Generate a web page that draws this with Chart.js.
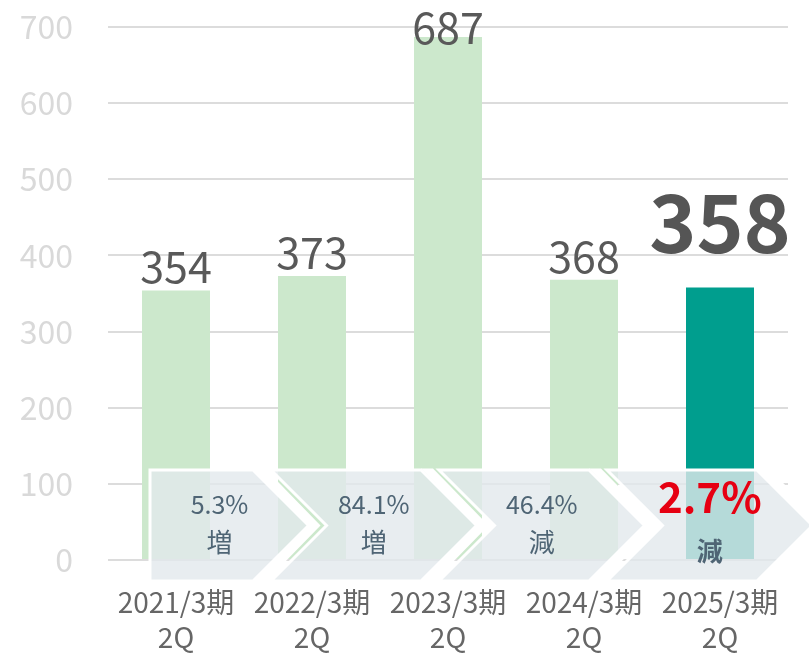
<!DOCTYPE html>
<html>
<head>
<meta charset="utf-8">
<script src="https://cdn.jsdelivr.net/npm/chart.js@4.4.1/dist/chart.umd.min.js"></script>
<style>
  html, body { margin: 0; padding: 0; background: #fff; }
  #wrap { width: 809px; height: 654px; }
</style>
</head>
<body>
<div id="wrap"><canvas id="chart" width="809" height="654"></canvas></div>
<script>
const periods = [
  ["2021/3期", "2Q"],
  ["2022/3期", "2Q"],
  ["2023/3期", "2Q"],
  ["2024/3期", "2Q"],
  ["2025/3期", "2Q"],
]
const values = [354, 373, 687, 368, 358]
const changeRates = ["5.3%", "84.1%", "46.4%", "2.7%"]
const changeDirs = ["増", "増", "減", "減"]
const yMax = 700
const yStep = 100

const FONT = "'Noto Sans CJK JP', 'Open Sans', sans-serif"
const barColors = values.map((v, i) => (i === values.length - 1 ? "#009e8e" : "#cce8cc"))

// chevron band across the bottom (decoration, follows the first bar and chart area)
const chevrons = {
  id: "chevrons",
  afterDatasetsDraw(chart) {
    const ctx = chart.ctx
    const area = chart.chartArea
    const bars = chart.getDatasetMeta(0).data
    const left0 = bars[0].x - bars[0].width / 2 + 8
    const top = area.bottom - 90
    const bot = area.bottom + 21
    const mid = (top + bot) / 2
    const depth = mid - top
    const w = 150
    const step = 168
    ctx.save()
    changeRates.forEach((rate, k) => {
      const tr = left0 + 103 + step * k
      const nl = tr - w
      // white band on the right edge
      ctx.fillStyle = "#ffffff"
      ctx.beginPath()
      ctx.moveTo(tr, top - 1.5)
      ctx.lineTo(tr + 12, top - 1.5)
      ctx.lineTo(tr + 12 + depth, mid)
      ctx.lineTo(tr + 12, bot + 1.5)
      ctx.lineTo(tr, bot + 1.5)
      ctx.lineTo(tr + depth, mid)
      ctx.closePath()
      ctx.fill()

      ctx.beginPath()
      if (k === 0) {
        ctx.moveTo(left0, top)
        ctx.lineTo(tr, top)
        ctx.lineTo(tr + depth, mid)
        ctx.lineTo(tr, bot)
        ctx.lineTo(left0, bot)
      } else {
        ctx.moveTo(nl, top)
        ctx.lineTo(tr, top)
        ctx.lineTo(tr + depth, mid)
        ctx.lineTo(tr, bot)
        ctx.lineTo(nl, bot)
        ctx.lineTo(nl + depth, mid)
      }
      ctx.closePath()
      ctx.fillStyle = "rgba(226,232,236,0.8)"
      ctx.fill()
      ctx.strokeStyle = "#ffffff"
      ctx.lineWidth = 3
      ctx.lineJoin = "miter"
      ctx.stroke()

      const cx = k === 0 ? (left0 + tr) / 2 + 18 : (nl + tr) / 2 + depth / 2
      const last = k === changeRates.length - 1
      ctx.textAlign = "center"
      ctx.textBaseline = "middle"
      if (last) {
        ctx.fillStyle = "#e60012"
        ctx.font = "bold 42px " + FONT
        ctx.fillText(rate, cx, area.bottom - 63)
        ctx.fillStyle = "#4f6575"
        ctx.font = "bold 26px " + FONT
        ctx.fillText(changeDirs[k], cx, area.bottom - 9)
      } else {
        ctx.fillStyle = "#4f6575"
        ctx.font = "25px " + FONT
        ctx.fillText(rate, cx, area.bottom - 56)
        ctx.font = "26px " + FONT
        ctx.fillText(changeDirs[k], cx, area.bottom - 18)
      }
    })
    ctx.restore()
  },
}

const valueLabels = {
  id: "valueLabels",
  afterDatasetsDraw(chart) {
    const ctx = chart.ctx
    const bars = chart.getDatasetMeta(0).data
    ctx.save()
    ctx.textAlign = "center"
    ctx.textBaseline = "alphabetic"
    bars.forEach((bar, i) => {
      const last = i === values.length - 1
      if (last) {
        ctx.fillStyle = "#555555"
        ctx.font = "bold 80px " + FONT
        ctx.fillText(String(values[i]), bar.x, bar.y - 34)
      } else {
        ctx.fillStyle = "#595959"
        ctx.font = "43px " + FONT
        ctx.fillText(String(values[i]), bar.x, Math.max(bar.y - 7, 44))
      }
    })
    ctx.restore()
  },
}

new Chart(document.getElementById("chart"), {
  type: "bar",
  data: {
    labels: periods,
    datasets: [
      {
        data: values,
        backgroundColor: barColors,
        borderWidth: 0,
        barPercentage: 0.5,
        categoryPercentage: 1,
      },
    ],
  },
  options: {
    responsive: false,
    animation: false,
    layout: { padding: { top: 27, right: 21, left: 0, bottom: 0 } },
    plugins: { legend: { display: false }, tooltip: { enabled: false } },
    scales: {
      x: {
        grid: { display: false },
        border: { display: false },
        ticks: {
          color: "#666666",
          font: { family: FONT, size: 28, lineHeight: 1.28 },
          padding: 16,
          maxRotation: 0,
          autoSkip: false,
        },
        afterFit: (s) => {
          s.height = 94
          s.paddingLeft = 0
          s.paddingRight = 0
        },
      },
      y: {
        min: 0,
        max: yMax,
        border: { display: false },
        grid: { color: "#dcdcdc", lineWidth: 2, drawTicks: false },
        ticks: {
          stepSize: yStep,
          color: "#d9d9d9",
          font: { family: FONT, size: 32 },
          padding: 35,
        },
        afterFit: (s) => {
          s.width = 108
          s.paddingTop = 0
          s.paddingBottom = 0
        },
      },
    },
  },
  plugins: [chevrons, valueLabels],
})
</script>
</body>
</html>
